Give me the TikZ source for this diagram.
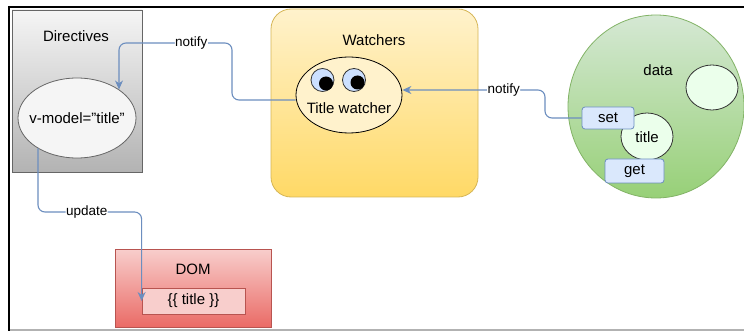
\documentclass[tikz,border=0pt]{standalone}
\usepackage{fontspec}
\setmainfont{Liberation Sans}
\usetikzlibrary{arrows.meta,shapes.geometric}
\definecolor{conncol}{HTML}{6C8EBF}
\definecolor{graytop}{HTML}{F5F5F5}
\definecolor{graybot}{HTML}{B3B3B3}
\definecolor{grayline}{HTML}{666666}
\definecolor{yeltop}{HTML}{FFF2CC}
\definecolor{yelbot}{HTML}{FFD966}
\definecolor{yelline}{HTML}{D6B656}
\definecolor{grntop}{HTML}{D5E8D4}
\definecolor{grnbot}{HTML}{97D077}
\definecolor{grnline}{HTML}{82B366}
\definecolor{grnlight}{HTML}{EBFFEB}
\definecolor{bluefill}{HTML}{DAE8FC}
\definecolor{eyefill}{HTML}{CCE0FF}
\definecolor{redtop}{HTML}{F8CECC}
\definecolor{redbot}{HTML}{EA6B66}
\definecolor{redline}{HTML}{B85450}
\definecolor{darkline}{HTML}{333333}
\begin{document}
\begin{tikzpicture}[x=1pt,y=-1pt,
  every node/.style={font=\fontsize{15}{18}\selectfont, inner sep=0pt},
  graybox/.style={draw=grayline, top color=graytop, bottom color=graybot, line width=0.8pt},
  yelbox/.style={draw=yelline, top color=yeltop, bottom color=yelbot, rounded corners=20pt, line width=0.8pt},
  redbox/.style={draw=redline, top color=redtop, bottom color=redbot, line width=0.8pt},
  ellnode/.style={ellipse, draw=darkline, line width=0.8pt},
  eye/.style={circle, draw=darkline, fill=eyefill, line width=0.8pt, minimum size=23pt},
  pupil/.style={circle, fill=black, minimum size=14pt},
  bluebox/.style={draw=conncol, fill=bluefill, rounded corners=3pt, line width=0.8pt},
  conn/.style={draw=conncol, line width=1.1pt, rounded corners=7pt, -{Stealth[length=9pt,width=8pt]}},
  lbl/.style={fill=white, font=\fontsize{13.5}{16}\selectfont, inner sep=0.5pt}
]
\useasboundingbox (0,0) rectangle (744,331);
\fill[white] (0,0) rectangle (744,331);
% frame
\draw[black, line width=2.5pt] (8,7) -- (744,7);
\draw[black, line width=2.5pt] (9,6) -- (9,331);
\draw[gray!60, line width=1.2pt] (10,330) -- (744,330);

% Directives
\node[graybox, minimum width=130pt, minimum height=162pt] (dir) at (77,91) {};
\node (dirlbl) at (76,36) {Directives};
\node[ellnode, draw=grayline, fill=graytop, minimum width=118pt, minimum height=80pt] (vm) at (77,118) {};
\node (vmlbl) at (77,118) {v-model="title"};

% Watchers
\node[yelbox, minimum width=207pt, minimum height=188pt] (wat) at (374.5,103) {};
\node (watlbl) at (374,40) {Watchers};
\node[ellnode, draw=black, fill=yeltop, minimum width=106pt, minimum height=76pt] (tw) at (349,95) {};
\node[eye] (eye1) at (322.5,80) {};
\node[pupil] (pup1) at (326,83.5) {};
\node[eye] (eye2) at (354,80) {};
\node[pupil] (pup2) at (357.5,82.5) {};
\node (twlbl) at (349,108) {Title watcher};

% data
\node[ellipse, draw=grnline, top color=grntop, bottom color=grnbot, line width=0.8pt, minimum width=176pt, minimum height=183pt] (data) at (656,106.5) {};
\node (datalbl) at (658,70) {data};
\node[ellnode, fill=grnlight, minimum width=52pt, minimum height=45pt] (other) at (712,87.5) {};
\node[ellnode, fill=grnlight, minimum width=52pt, minimum height=47pt] (title) at (647,136.5) {};
\node (titlelbl) at (647,137.5) {title};
\node[bluebox, minimum width=52pt, minimum height=22pt] (set) at (608,118) {set};
\node[bluebox, minimum width=59pt, minimum height=24pt] (get) at (634.5,171) {get};

% DOM
\node[redbox, minimum width=156pt, minimum height=78pt] (dom) at (193,288) {};
\node (domlbl) at (193,269) {DOM};
\node[draw=redline, fill=redtop, line width=0.8pt, minimum width=103pt, minimum height=26pt] (tbox) at (193.5,301) {\{\{ title \}\}};

% connectors
\draw[conn] ([yshift=-5pt]tw.west) -| (232,43) -| node[lbl, pos=0.18] {notify} (vm.north east);
\draw[conn] (set.west) -| (545,90) -- node[lbl, pos=0.29] {notify} ([yshift=5pt]tw.east);
\draw[conn] (vm.218) -- (38,212) -| node[lbl, pos=0.235] {update} (tbox.west);
\end{tikzpicture}
\end{document}
